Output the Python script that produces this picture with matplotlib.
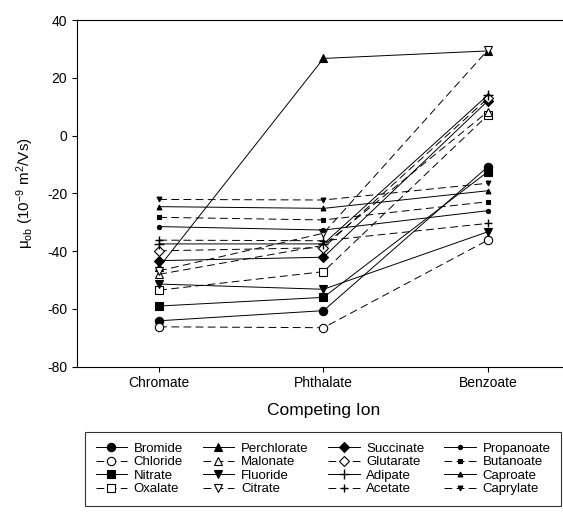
import matplotlib
matplotlib.use("Agg")
import matplotlib.pyplot as plt

plt.rcParams['font.family'] = ['Liberation Sans', 'DejaVu Sans']
plt.rcParams['mathtext.fontset'] = 'custom'
plt.rcParams['mathtext.rm'] = 'Liberation Sans'
plt.rcParams['mathtext.it'] = 'Liberation Sans:italic'

# competing ions on the x axis
ions = ['Chromate', 'Phthalate', 'Benzoate']

# mobility of each analyte (10^-9 m^2/Vs)
bromide = [-64.1, -60.6, -10.8]
chloride = [-66.2, -66.5, -36.2]
nitrate = [-59.0, -56.0, -12.5]
oxalate = [-53.5, -47.1, 7.1]
perchlorate = [-45.5, 26.7, 29.3]
malonate = [-48.0, -38.0, 8.3]
fluoride = [-51.4, -53.2, -33.3]
citrate = [-46.8, -33.8, 29.6]
succinate = [-43.3, -42.1, 12.0]
glutarate = [-39.9, -38.8, 12.9]
adipate = [-37.5, -37.5, 14.0]
acetate = [-36.2, -36.4, -30.4]
propanoate = [-31.5, -32.7, -26.0]
butanoate = [-28.3, -29.2, -22.9]
caproate = [-24.6, -25.2, -19.1]
caprylate = [-22.1, -22.3, -16.5]

yticks = [40, 20, 0, -20, -40, -60, -80]

solid = '-'
dash = (0, (8, 4.5))

# name, data, marker, filled, size, linestyle
series = [
    ('Bromide', bromide, 'o', True, 6, solid),
    ('Chloride', chloride, 'o', False, 6, dash),
    ('Nitrate', nitrate, 's', True, 5.5, solid),
    ('Oxalate', oxalate, 's', False, 5.5, dash),
    ('Perchlorate', perchlorate, '^', True, 6, solid),
    ('Malonate', malonate, '^', False, 6, dash),
    ('Fluoride', fluoride, 'v', True, 6, solid),
    ('Citrate', citrate, 'v', False, 6, dash),
    ('Succinate', succinate, 'D', True, 5, solid),
    ('Glutarate', glutarate, 'D', False, 5, dash),
    ('Adipate', adipate, '+', True, 7, solid),
    ('Acetate', acetate, '+', True, 6, dash),
    ('Propanoate', propanoate, 'o', True, 3, solid),
    ('Butanoate', butanoate, 's', True, 3, dash),
    ('Caproate', caproate, '^', True, 3.5, solid),
    ('Caprylate', caprylate, 'v', True, 3.5, dash),
]

fig = plt.figure(figsize=(5.63, 5.13), dpi=100)
ax = fig.add_axes([77 / 563, 1 - 366.7 / 513, (570 - 77) / 563, (366.7 - 20) / 513])

xs = range(len(ions))
for name, vals, mk, filled, ms, ls in series:
    ax.plot(xs, vals, color='black', lw=0.7, linestyle=ls, marker=mk,
            markersize=ms, markerfacecolor='black' if filled else 'white',
            markeredgecolor='black', markeredgewidth=0.8 if mk != '+' else 1.0,
            label=name)

ax.set_xlim(-0.5, 2.5)
ax.set_ylim(-80, 40)
ax.set_xticks(list(xs))
ax.set_xticklabels(ions, fontsize=10)
ax.set_yticks(yticks)
ax.set_yticklabels([str(t) for t in yticks], fontsize=10)
ax.tick_params(direction='out', length=3.5, width=0.8, top=False, right=False)
for sp in ax.spines.values():
    sp.set_linewidth(0.8)

ax.set_xlabel('Competing Ion', fontsize=12.5, labelpad=9)
ax.set_ylabel('μ$_{\\rm ob}$ (10$^{-9}$ m$^{2}$/Vs)', fontsize=11, labelpad=8)

leg = fig.legend(loc='upper left', bbox_to_anchor=(85 / 563, 1 - 432 / 513, (561 - 85) / 563, 0),
                 ncol=4, mode='expand', fontsize=9.5, frameon=True, fancybox=False,
                 edgecolor='black', handlelength=2.4, handletextpad=0.5,
                 labelspacing=0.1, borderaxespad=0, borderpad=0.8, columnspacing=0.5)
leg.get_frame().set_linewidth(0.8)

fig.savefig('out.png', dpi=100)
